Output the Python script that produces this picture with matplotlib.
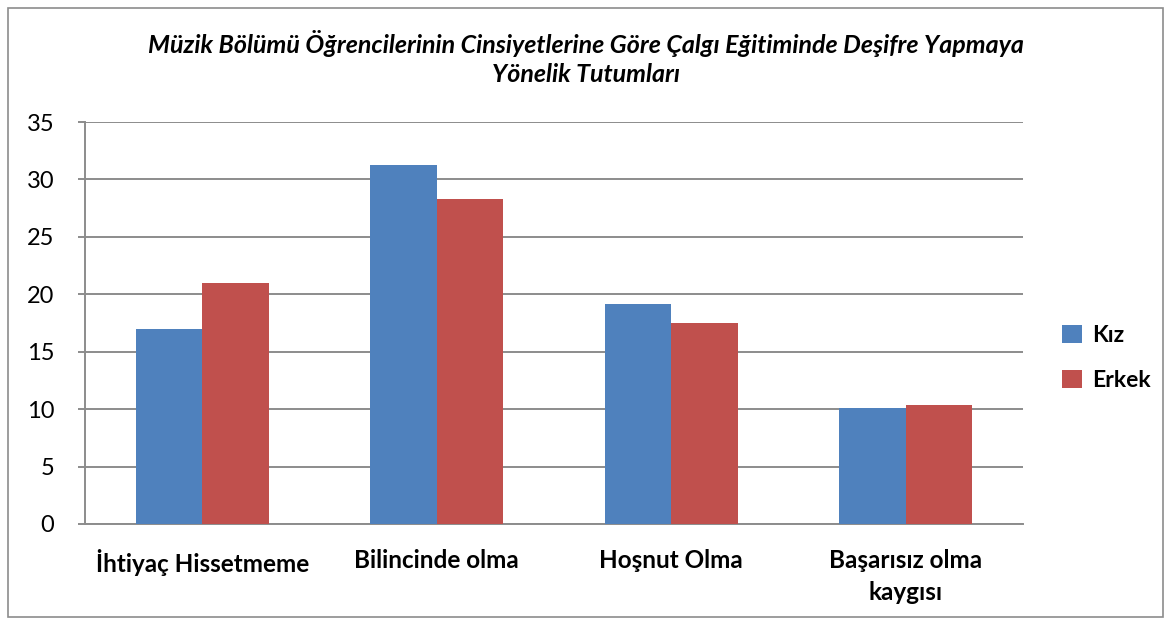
import numpy as np
import matplotlib.pyplot as plt
from matplotlib.patches import Rectangle

categories = ["İhtiyaç Hissetmeme", "Bilincinde olma", "Hoşnut Olma", "Başarısız olma\nkaygısı"]
kiz = [17.0, 31.25, 19.15, 10.1]
erkek = [21.0, 28.3, 17.5, 10.35]
series_names = ["Kız", "Erkek"]

plt.rcParams['font.family'] = ['Lato', 'DejaVu Sans']

fig = plt.figure(figsize=(11.71, 6.26), dpi=100)
ax = fig.add_axes([0.0726, 0.163, 0.801, 0.642])

x = np.arange(len(categories))
w = 0.284
ax.bar(x - w/2, kiz, w, color="#4F81BD", label=series_names[0], zorder=3)
ax.bar(x + w/2, erkek, w, color="#C0504D", label=series_names[1], zorder=3)

ax.set_xlim(-0.5, len(categories) - 0.5)
ax.set_ylim(0, 35)
ax.set_yticks(range(0, 36, 5))
ax.set_xticks(x)
ax.set_xticklabels(categories, fontsize=17.5, fontweight='bold', linespacing=1.45)
ax.tick_params(axis='y', labelsize=17, length=5, width=1.4, color='#8c8c8c', pad=17)
ax.tick_params(axis='x', length=0, pad=18)
ax.grid(axis='y', color='#8c8c8c', linewidth=1.4, zorder=0)
for s in ['top', 'right']:
    ax.spines[s].set_visible(False)
for s in ['left', 'bottom']:
    ax.spines[s].set_color('#8c8c8c')
    ax.spines[s].set_linewidth(1.4)

fig.text(0.5, 0.907, "Müzik Bölümü Öğrencilerinin Cinsiyetlerine Göre Çalgı Eğitiminde Deşifre Yapmaya\nYönelik Tutumları",
         ha='center', va='center', fontsize=18, fontweight='bold', fontstyle='italic', linespacing=1.3)

ax.legend(loc='center left', bbox_to_anchor=(1.02, 0.413), frameon=False,
          prop={'size': 16.5, 'weight': 'bold'}, handlelength=0.85, handleheight=0.85,
          handletextpad=0.45, labelspacing=1.05)

fig.patches.append(Rectangle((0.007, 0.014), 0.986, 0.973, transform=fig.transFigure,
                             fill=False, edgecolor='#8c8c8c', linewidth=1.2))

fig.savefig("out.png", dpi=100)
